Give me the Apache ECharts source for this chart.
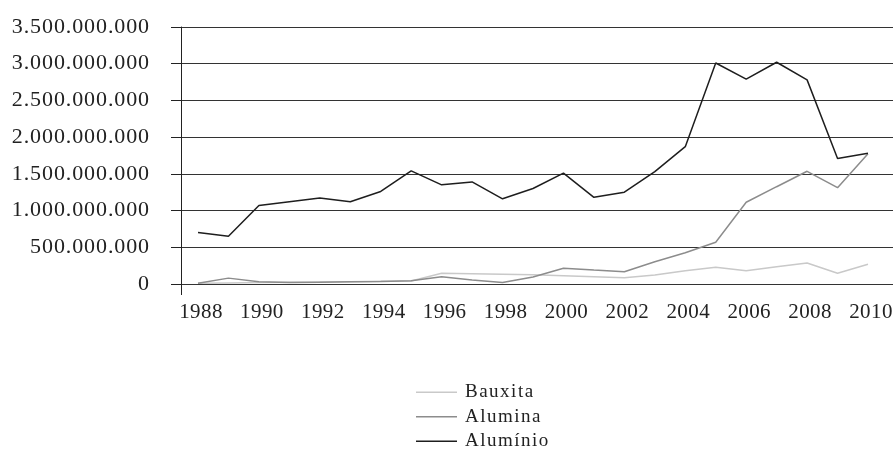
<!DOCTYPE html>
<html>
<head>
<meta charset="utf-8">
<style>
  html, body { margin: 0; padding: 0; background: #fff; }
  #chart { width: 893px; height: 451px; }
</style>
<script src="https://cdn.jsdelivr.net/npm/echarts@6/dist/echarts.min.js"></script>
</head>
<body>
<div id="chart"></div>
<script>
// values, in units (not millions)
const years = ['1988', '1989', '1990', '1991', '1992', '1993', '1994', '1995', '1996', '1997', '1998', '1999',
  '2000', '2001', '2002', '2003', '2004', '2005', '2006', '2007', '2008', '2009', '2010']

const bauxita = [10, 15, 20, 25, 28, 32, 36, 40, 146, 140, 133, 125,
  113, 100, 86, 122, 181, 227, 181, 236, 286, 146, 268].map(v => v * 1e6)

const alumina = [10, 80, 30, 20, 25, 30, 35, 45, 100, 55, 20, 95,
  214, 190, 168, 304, 426, 568, 1113, 1325, 1535, 1312, 1775].map(v => v * 1e6)

const aluminio = [700, 650, 1070, 1120, 1170, 1120, 1260, 1540, 1350, 1390, 1160, 1300,
  1510, 1180, 1250, 1530, 1870, 3010, 2790, 3020, 2780, 1710, 1780].map(v => v * 1e6)

const yMax = 3500000000
const yStep = 500000000

const font = 'Liberation Serif'
const ink = '#222'

function dots(v) {
  return String(v).replace(/\B(?=(\d{3})+(?!\d))/g, '.')
}

// the original type is tracked out a little; canvas can do that, echarts has no option for it
const proto = CanvasRenderingContext2D.prototype
const origFill = proto.fillText
const origMeasure = proto.measureText
function track(ctx) {
  if (ctx.font.indexOf('19px') >= 0) ctx.letterSpacing = '1.5px'
  else if (ctx.font.indexOf('21px') >= 0) ctx.letterSpacing = '0.4px'
  else ctx.letterSpacing = '0.9px'
}
proto.fillText = function () { track(this); return origFill.apply(this, arguments) }
proto.measureText = function () { track(this); return origMeasure.apply(this, arguments) }

var myChart = echarts.init(document.getElementById('chart'))

myChart.setOption({
  animation: false,
  textStyle: { fontFamily: font, color: ink },
  grid: [
    // axis frame + gridlines
    { left: 181, right: 0, top: 27, bottom: 167, outerBoundsMode: 'none' },
    // the lines themselves
    { left: 198, right: 25, top: 27, bottom: 167, outerBoundsMode: 'none' }
  ],
  xAxis: [
    {
      gridIndex: 0,
      type: 'value',
      min: 0,
      max: 1,
      interval: 1,
      axisLine: { show: false },
      axisTick: { show: true, length: 11, lineStyle: { color: ink, width: 1 } },
      axisLabel: { show: false },
      splitLine: { show: false }
    },
    {
      gridIndex: 1,
      type: 'category',
      data: years,
      boundaryGap: false,
      axisLine: { show: false },
      axisTick: { show: false },
      axisLabel: {
        interval: 1,
        fontFamily: font,
        fontSize: 21,
        color: ink,
        margin: 18,
        padding: [0, 0, 0, 6]
      }
    }
  ],
  yAxis: [
    {
      gridIndex: 0,
      type: 'value',
      min: 0,
      max: yMax,
      interval: yStep,
      axisLine: { show: true, lineStyle: { color: ink, width: 1 } },
      axisTick: { show: true, length: 10, lineStyle: { color: ink, width: 1 } },
      axisLabel: {
        fontFamily: font,
        fontSize: 22,
        color: ink,
        margin: 31,
        padding: [0, 0, 4, 0],
        formatter: v => dots(v)
      },
      splitLine: { show: true, lineStyle: { color: '#333', width: 1 } }
    },
    {
      gridIndex: 1,
      type: 'value',
      min: 0,
      max: yMax,
      interval: yStep,
      show: false
    }
  ],
  legend: {
    orient: 'vertical',
    left: 416,
    top: 382,
    height: 120,
    padding: 0,
    icon: 'rect',
    itemWidth: 41,
    itemHeight: 1.5,
    itemGap: 4,
    textStyle: { fontFamily: font, fontSize: 19, color: ink, lineHeight: 20.5, padding: [0, 0, 0, 3] },
    data: ['Bauxita', 'Alumina', 'Alumínio']
  },
  series: [
    {
      name: 'Bauxita',
      type: 'line',
      xAxisIndex: 1,
      yAxisIndex: 1,
      symbol: 'none',
      data: bauxita,
      lineStyle: { color: '#c9c9c9', width: 1.5 },
      itemStyle: { color: '#c9c9c9' }
    },
    {
      name: 'Alumina',
      type: 'line',
      xAxisIndex: 1,
      yAxisIndex: 1,
      symbol: 'none',
      data: alumina,
      lineStyle: { color: '#8c8c8c', width: 1.5 },
      itemStyle: { color: '#8c8c8c' }
    },
    {
      name: 'Alumínio',
      type: 'line',
      xAxisIndex: 1,
      yAxisIndex: 1,
      symbol: 'none',
      data: aluminio,
      lineStyle: { color: '#1e1e1e', width: 1.5 },
      itemStyle: { color: '#1e1e1e' }
    }
  ]
})
</script>
</body>
</html>
